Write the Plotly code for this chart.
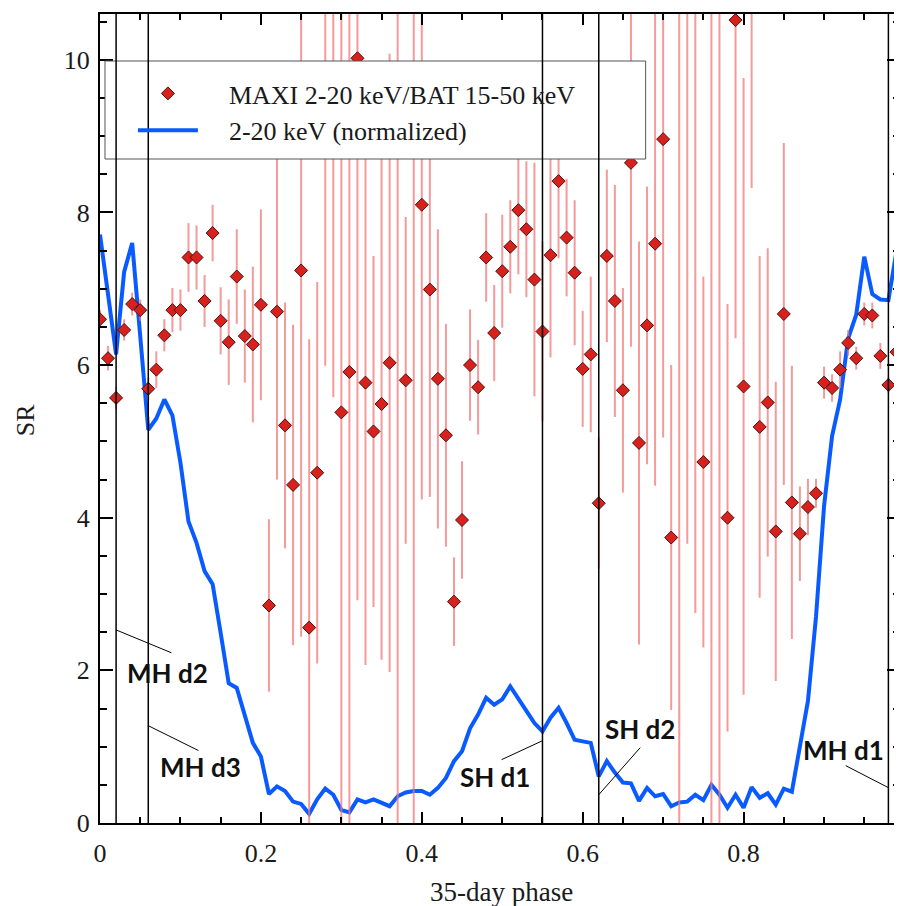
import plotly.graph_objects as go

# ---------------- data ----------------
phase = [0.00, 0.01, 0.02, 0.03, 0.04, 0.05, 0.06, 0.07, 0.08, 0.09,
         0.10, 0.11, 0.12, 0.13, 0.14, 0.15, 0.16, 0.17, 0.18, 0.19,
         0.20, 0.21, 0.22, 0.23, 0.24, 0.25, 0.26, 0.27, 0.28, 0.29,
         0.30, 0.31, 0.32, 0.33, 0.34, 0.35, 0.36, 0.37, 0.38, 0.39,
         0.40, 0.41, 0.42, 0.43, 0.44, 0.45, 0.46, 0.47, 0.48, 0.49,
         0.50, 0.51, 0.52, 0.53, 0.54, 0.55, 0.56, 0.57, 0.58, 0.59,
         0.60, 0.61, 0.62, 0.63, 0.64, 0.65, 0.66, 0.67, 0.68, 0.69,
         0.70, 0.71, 0.72, 0.73, 0.74, 0.75, 0.76, 0.77, 0.78, 0.79,
         0.80, 0.81, 0.82, 0.83, 0.84, 0.85, 0.86, 0.87, 0.88, 0.89,
         0.90, 0.91, 0.92, 0.93, 0.94, 0.95, 0.96, 0.97, 0.98, 0.99]

# softness ratio MAXI 2-20 keV / BAT 15-50 keV
sr = [6.60, 6.09, 5.57, 6.46, 6.80, 6.72, 5.69, 5.94, 6.39, 6.72,
      6.72, 7.41, 7.41, 6.84, 7.73, 6.58, 6.30, 7.16, 6.38, 6.27,
      6.79, 2.85, 6.70, 5.21, 4.43, 7.24, 2.56, 4.59, 11.5, 12.0,
      5.38, 5.91, 10.02, 5.77, 5.13, 5.49, 6.03, 12.0, 5.80, 12.0,
      8.10, 6.99, 5.82, 5.08, 2.90, 3.97, 6.00, 5.71, 7.41, 6.42,
      7.23, 7.55, 8.03, 7.78, 7.12, 6.44, 7.44, 8.41, 7.67, 7.21,
      5.95, 6.14, 4.19, 7.43, 6.84, 5.67, 8.65, 4.98, 6.52, 7.59,
      8.96, 3.74, 12.0, 12.0, 12.0, 4.73, 12.0, 12.0, 4.00, 10.52,
      5.72, 12.5, 5.19, 5.51, 3.82, 6.67, 4.20, 3.79, 4.14, 4.32,
      5.77, 5.70, 5.94, 6.29, 6.09, 6.67, 6.65, 6.12, 5.74, 6.17]

sr_err = [0.12, 0.16, 0.15, 0.14, 0.15, 0.14, 0.15, 0.24, 0.21, 0.29,
          0.27, 0.45, 0.42, 0.34, 0.37, 0.44, 0.56, 0.62, 0.61, 1.02,
          1.25, 1.13, 2.20, 1.61, 2.10, 4.80, 3.78, 2.50, 5.51, 6.42,
          5.60, 6.20, 7.10, 3.70, 2.30, 3.35, 4.05, 12.5, 2.14, 12.5,
          3.86, 2.72, 1.96, 1.46, 0.58, 0.77, 0.73, 0.62, 0.58, 0.63,
          0.74, 0.61, 0.84, 0.89, 1.53, 1.18, 1.34, 1.01, 0.77, 0.95,
          0.76, 1.02, 0.86, 1.13, 1.52, 1.34, 2.41, 2.64, 1.82, 3.17,
          3.91, 2.26, 12.5, 8.34, 9.25, 2.43, 12.5, 12.5, 2.80, 4.17,
          4.04, 4.18, 2.24, 2.02, 1.96, 2.24, 1.79, 0.62, 0.37, 0.19,
          0.21, 0.18, 0.24, 0.17, 0.15, 0.15, 0.17, 0.17, 0.10, 0.15]

# 2-20 keV light curve (normalized)
flux_norm = [7.71, 6.94, 6.14, 7.22, 7.60, 6.38, 5.15, 5.30, 5.55, 5.34,
             4.72, 3.95, 3.67, 3.30, 3.13, 2.49, 1.83, 1.77, 1.40, 1.05,
             0.87, 0.38, 0.48, 0.42, 0.28, 0.25, 0.12, 0.31, 0.45, 0.37,
             0.17, 0.14, 0.31, 0.27, 0.31, 0.26, 0.22, 0.35, 0.40, 0.42,
             0.42, 0.37, 0.46, 0.59, 0.81, 0.94, 1.24, 1.42, 1.64, 1.55,
             1.62, 1.79, 1.64, 1.47, 1.31, 1.20, 1.38, 1.51, 1.31, 1.09,
             1.07, 1.05, 0.61, 0.81, 0.66, 0.53, 0.52, 0.29, 0.46, 0.35,
             0.38, 0.22, 0.27, 0.28, 0.37, 0.30, 0.50, 0.37, 0.20, 0.37,
             0.20, 0.47, 0.33, 0.39, 0.24, 0.45, 0.41, 0.98, 1.60, 2.70,
             4.15, 5.07, 5.55, 6.35, 6.66, 7.42, 6.93, 6.86, 6.85, 7.49]

x_tick_vals = [0, 0.2, 0.4, 0.6, 0.8]
x_tick_text = ["0", "0.2", "0.4", "0.6", "0.8"]
y_tick_vals = [0, 2, 4, 6, 8, 10]
y_tick_text = ["0", "2", "4", "6", "8", "10"]

series_names = ["MAXI 2-20 keV/BAT 15-50 keV", "2-20 keV (normalized)"]

boundary_phases = [0.02, 0.06, 0.55, 0.62, 0.98]
boundary_labels = ["MH d2", "MH d3", "SH d1", "SH d2", "MH d1"]

# ---------------- layout helpers (positions only) ----------------
# label centre (x, y) and leader line (x0, y0, x1, y1) in data units
label_pos = {
    "MH d2": (0.0838, 1.97, 0.02, 2.53, 0.0888, 2.23),
    "MH d3": (0.1254, 0.74, 0.06, 1.275, 0.1223, 0.95),
    "SH d1": (0.4905, 0.60, 0.55, 1.078, 0.4992, 0.83),
    "SH d2": (0.6714, 1.235, 0.62, 0.371, 0.6715, 0.987),
    "MH d1": (0.924, 0.96, 0.98, 0.463, 0.927, 0.751),
}

SERIF = "Liberation Serif, Times New Roman, serif"
PAGE_OFF = 8          # default body margin of the html page
W, H = 894, 898
ML, MR, MT, MB = 92, 0, 6, 83
PW = W - ML - MR
PH = H - MT - MB
PAD = "\u00a0\u00a0\u00a0\u00a0"


def px_x(p):
    """page pixel -> paper x"""
    return (p - PAGE_OFF - ML) / PW


def px_y(p):
    """page pixel -> paper y"""
    return (H - MB - (p - PAGE_OFF)) / PH


fig = go.Figure()

fig.add_trace(go.Scatter(
    x=phase, y=flux_norm, mode="lines",
    name=PAD + series_names[1], legendrank=2,
    line=dict(color="#0a5bff", width=4),
))

fig.add_trace(go.Scatter(
    x=phase, y=sr, mode="markers",
    name=PAD + series_names[0], legendrank=1,
    marker=dict(symbol="diamond", size=10, color="#d8201c",
                line=dict(color="#4a1010", width=1)),
    error_y=dict(type="data", array=sr_err, visible=True,
                 color="rgba(240,120,120,0.75)", thickness=2, width=0),
))

shapes = []
# legend box (opaque, covers error bars)
shapes.append(dict(type="rect", xref="paper", yref="paper",
                   x0=px_x(105), x1=px_x(647), y0=px_y(159), y1=px_y(61),
                   fillcolor="white", line=dict(color="#555555", width=1),
                   layer="above"))
for b in boundary_phases:
    shapes.append(dict(type="line", xref="x", yref="paper", x0=b, x1=b,
                       y0=0, y1=1, line=dict(color="black", width=1.5),
                       layer="above"))
annotations = []
for lab in boundary_labels:
    tx, ty, lx0, ly0, lx1, ly1 = label_pos[lab]
    shapes.append(dict(type="line", xref="x", yref="y", x0=lx0, y0=ly0,
                       x1=lx1, y1=ly1, line=dict(color="black", width=1),
                       layer="above"))
    annotations.append(dict(x=tx, y=ty, xref="x", yref="y", text="<b>" + lab + "</b>",
                            showarrow=False, xanchor="center", yanchor="middle",
                            font=dict(family="Lato, Noto Sans, sans-serif", size=26,
                                      color="#111111")))

annotations.append(dict(x=px_x(26), y=px_y(420), xref="paper", yref="paper", text="SR",
                        textangle=-90, showarrow=False, xanchor="center", yanchor="middle",
                        font=dict(family=SERIF, size=26, color="#1a1a1a")))
annotations.append(dict(x=px_x(503), y=px_y(892), xref="paper", yref="paper",
                        text="35-day phase", showarrow=False, xanchor="center",
                        yanchor="middle", font=dict(family=SERIF, size=27, color="#1a1a1a")))

axis_common = dict(showline=True, linecolor="black", linewidth=2, mirror="ticks",
                   ticks="inside", tickcolor="black", tickwidth=1.5,
                   showgrid=False, zeroline=False, tickmode="array",
                   tickfont=dict(family=SERIF, size=26, color="#1a1a1a"))

fig.update_layout(
    width=W, height=H,
    margin=dict(l=ML, r=MR, t=MT, b=MB),
    paper_bgcolor="white", plot_bgcolor="white",
    showlegend=True,
    legend=dict(x=px_x(133), y=px_y(70), xanchor="left", yanchor="top",
                bgcolor="rgba(0,0,0,0)", borderwidth=0, itemwidth=60,
                font=dict(family=SERIF, size=26, color="#1a1a1a")),
    xaxis=dict(range=[0, PW / 806.5], tickvals=x_tick_vals, ticktext=x_tick_text,
               ticklen=11, ticklabelstandoff=6,
               minor=dict(dtick=0.05, tick0=0, ticks="inside", ticklen=6,
                          tickcolor="black", tickwidth=1.5),
               **axis_common),
    yaxis=dict(range=[0, 10.6], tickvals=y_tick_vals, ticktext=y_tick_text,
               ticklen=13, ticklabelstandoff=3,
               minor=dict(dtick=0.5, tick0=0, ticks="inside", ticklen=7,
                          tickcolor="black", tickwidth=1.5),
               **axis_common),
    shapes=shapes,
    annotations=annotations,
)

fig.write_html("out.html")
